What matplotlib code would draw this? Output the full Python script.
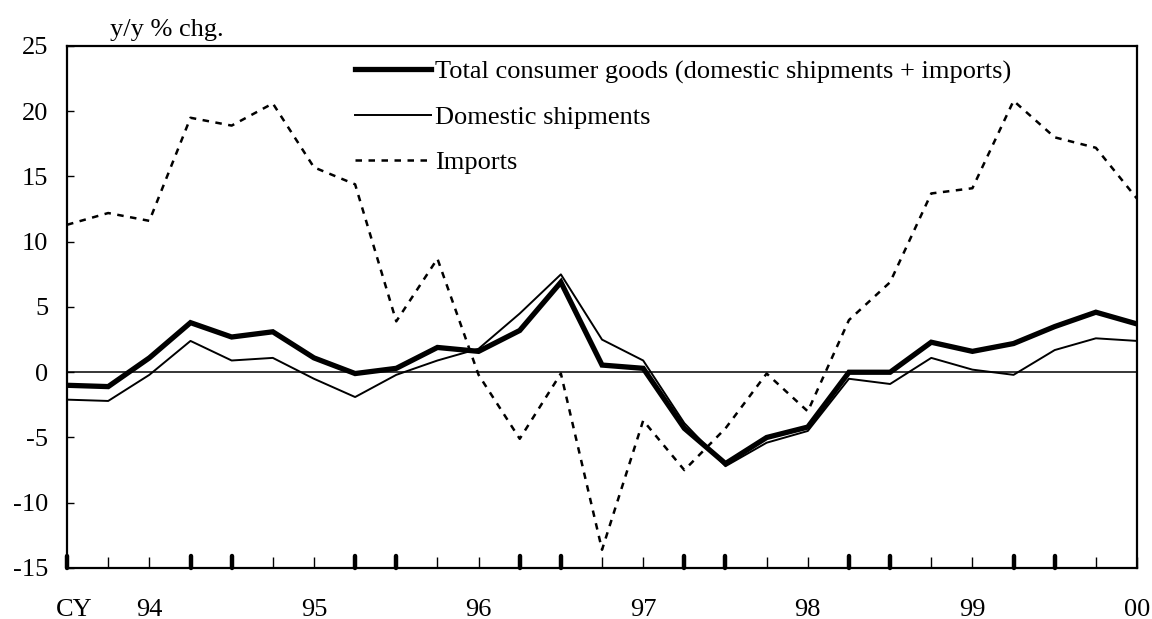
import numpy as np
import matplotlib
matplotlib.use("Agg")
import matplotlib.pyplot as plt

plt.rcParams['font.family'] = ['Liberation Serif', 'DejaVu Serif']
plt.rcParams['axes.unicode_minus'] = False

# quarterly y/y % change, 27 quarters
total = [-1.0, -1.1, 1.1, 3.8, 2.7, 3.1, 1.1, -0.1, 0.3, 1.9, 1.6, 3.2, 6.9,
         0.55, 0.3, -4.3, -7.0, -5.0, -4.2, 0.0, 0.0, 2.3, 1.6, 2.2, 3.5, 4.6, 3.7]
domestic = [-2.1, -2.2, -0.2, 2.4, 0.9, 1.1, -0.5, -1.9, -0.2, 0.9, 1.8, 4.5, 7.5,
            2.5, 0.9, -3.9, -7.2, -5.4, -4.5, -0.5, -0.9, 1.1, 0.2, -0.2, 1.7, 2.6, 2.4]
imports = [11.3, 12.2, 11.6, 19.5, 18.9, 20.6, 15.7, 14.4, 3.9, 8.7, -0.2, -5.1, -0.1,
           -13.6, -3.7, -7.5, -4.3, -0.1, -3.0, 4.0, 6.9, 13.7, 14.1, 20.8, 18.0, 17.2, 13.3]

year_pos = [2, 6, 10, 14, 18, 22, 26]
year_labels = ["94", "95", "96", "97", "98", "99", "00"]
bold_ticks = [0, 3, 4, 7, 8, 11, 12, 15, 16, 19, 20, 23, 24]

x = np.arange(len(total))
fs = 19

fig = plt.figure(figsize=(11.52, 6.19), dpi=100)
ax = fig.add_axes([0.0582, 0.0824, 0.9288, 0.8433])

ax.axhline(0, color='black', lw=1.1, zorder=1)
ax.plot(x, imports, color='black', lw=1.8, dashes=(2.6, 2.6),
        label='Imports', zorder=2)
ax.plot(x, domestic, color='black', lw=1.4,
        label='Domestic shipments', zorder=3)
ax.plot(x, total, color='black', lw=3.8, solid_joinstyle='miter',
        label='Total consumer goods (domestic shipments + imports)', zorder=4)

ax.set_xlim(0, len(total) - 1)
ax.set_ylim(-15, 25)
ax.set_yticks(np.arange(-15, 26, 5))
ax.tick_params(axis='y', direction='in', length=5, width=1, labelsize=fs, pad=13.5)

# thin ticks on every quarter, heavy ticks drawn on top
ax.set_xticks(x)
ax.set_xticklabels([])
ax.tick_params(axis='x', direction='in', length=8, width=1)
for p in bold_ticks:
    ax.plot([p, p], [-15, -15 + 12 * 40 / 522], color='black', lw=3.2,
            solid_capstyle='round', clip_on=False, zorder=5)

for p, lab in zip(year_pos, year_labels):
    ax.annotate(lab, xy=(p, -15), xycoords='data', xytext=(0, -31),
                textcoords='offset pixels', ha='center', va='top', fontsize=fs)
ax.annotate('CY', xy=(0.17, -15), xycoords='data', xytext=(0, -31),
            textcoords='offset pixels', ha='center', va='top', fontsize=fs)

for s in ax.spines.values():
    s.set_linewidth(1.6)

ax.text(0.04, 1.01, 'y/y % chg.', transform=ax.transAxes, ha='left',
        va='bottom', fontsize=fs)

handles, labels = ax.get_legend_handles_labels()
ax.legend(handles[::-1], labels[::-1], loc='upper left',
          bbox_to_anchor=(0.259, 0.994), frameon=False, fontsize=fs,
          handlelength=2.88, handletextpad=0.15, labelspacing=0.83,
          borderaxespad=0)

fig.savefig('out.png', dpi=100)
